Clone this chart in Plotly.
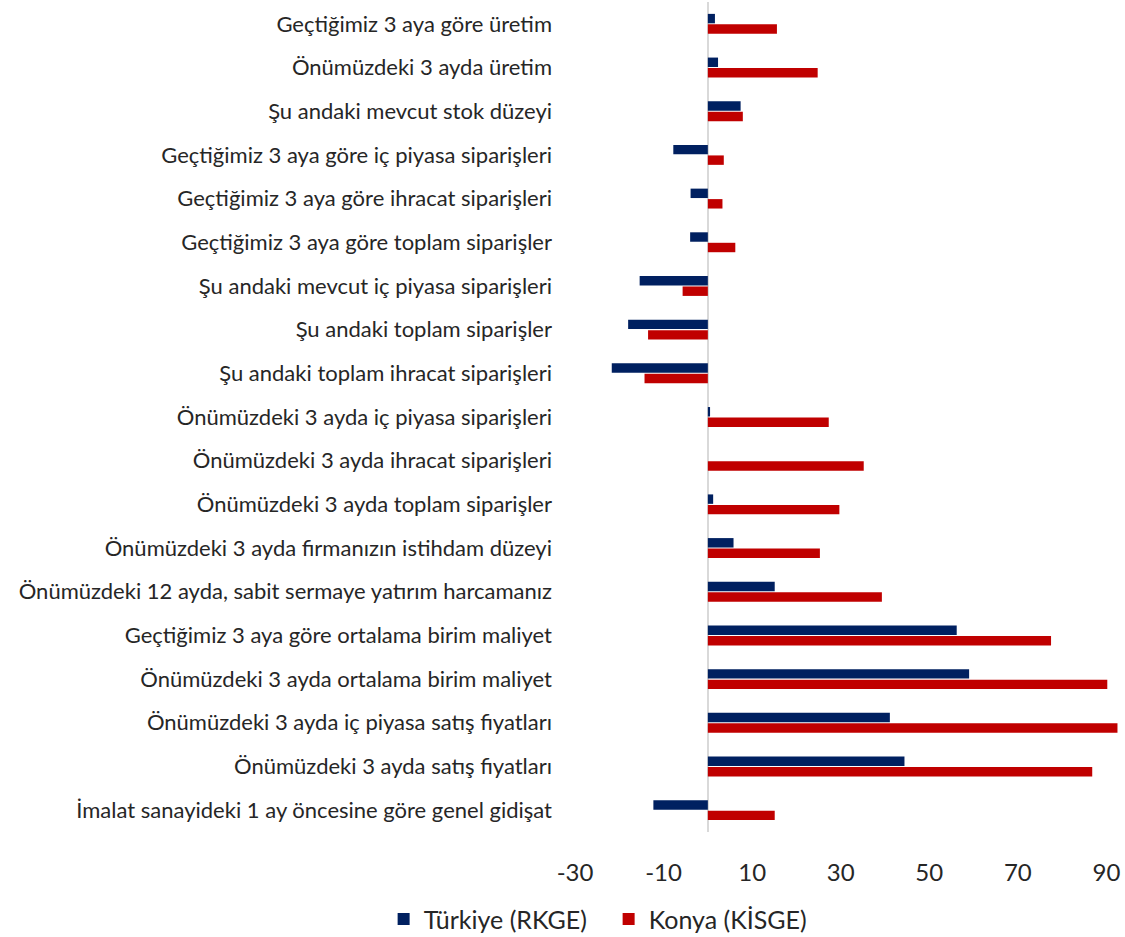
import plotly.graph_objects as go

categories = [
    "Geçtiğimiz 3 aya göre üretim",
    "Önümüzdeki 3 ayda üretim",
    "Şu andaki mevcut stok düzeyi",
    "Geçtiğimiz 3 aya göre iç piyasa siparişleri",
    "Geçtiğimiz 3 aya göre ihracat siparişleri",
    "Geçtiğimiz 3 aya göre toplam siparişler",
    "Şu andaki mevcut iç piyasa siparişleri",
    "Şu andaki toplam siparişler",
    "Şu andaki toplam ihracat siparişleri",
    "Önümüzdeki 3 ayda iç piyasa siparişleri",
    "Önümüzdeki 3 ayda ihracat siparişleri",
    "Önümüzdeki 3 ayda toplam siparişler",
    "Önümüzdeki 3 ayda firmanızın istihdam düzeyi",
    "Önümüzdeki 12 ayda, sabit sermaye yatırım harcamanız",
    "Geçtiğimiz 3 aya göre ortalama birim maliyet",
    "Önümüzdeki 3 ayda ortalama birim maliyet",
    "Önümüzdeki 3 ayda iç piyasa satış fiyatları",
    "Önümüzdeki 3 ayda satış fiyatları",
    "İmalat sanayideki 1 ay öncesine göre genel gidişat",
]

turkiye = [1.6, 2.3, 7.4, -7.8, -3.9, -4.0, -15.4, -18.0, -21.7, 0.5, 0.0, 1.2,
           5.8, 15.1, 56.2, 59.0, 41.1, 44.4, -12.3]
konya = [15.6, 24.8, 7.9, 3.6, 3.3, 6.2, -5.7, -13.5, -14.3, 27.3, 35.2, 29.7,
         25.3, 39.3, 77.5, 90.2, 92.5, 86.8, 15.1]

series_names = ["Türkiye (RKGE)", "Konya (KİSGE)"]
series_colors = ["#002060", "#C00000"]
x_ticks = [-30, -10, 10, 30, 50, 70, 90]

FONT = "Lato, 'Open Sans', sans-serif"

fig = go.Figure()
for name, vals, col in zip(series_names, [turkiye, konya], series_colors):
    fig.add_trace(go.Bar(
        y=categories, x=vals, name=name, orientation="h",
        marker=dict(color=col, line=dict(width=0)),
    ))

fig.update_layout(
    width=1125, height=937,
    margin=dict(l=575, r=0, t=2, b=105),
    paper_bgcolor="white", plot_bgcolor="white",
    barmode="group", bargap=0.52, bargroupgap=0.1,
    font=dict(family=FONT, size=22, color="#262626"),
    showlegend=True,
    legend=dict(
        orientation="h", xref="container", yref="container",
        x=0.541, xanchor="center", y=0.019, yanchor="middle",
        font=dict(family=FONT, size=25, color="#262626"),
        itemwidth=30, traceorder="normal",
        entrywidth=180, entrywidthmode="pixels",
    ),
    xaxis=dict(
        range=[-30, 94.2], tickvals=x_ticks, ticktext=[str(v) for v in x_ticks],
        showgrid=False, zeroline=True, zerolinecolor="#d9d9d9", zerolinewidth=2,
        showline=False, ticks="", ticklabelstandoff=24,
        tickfont=dict(family=FONT, size=24, color="#262626"),
    ),
    yaxis=dict(
        autorange="reversed", showgrid=False, showline=False, ticks="",
        ticklabelstandoff=22,
        tickfont=dict(family=FONT, size=22, color="#262626"),
    ),
)

fig.write_html("out.html", config={"displayModeBar": False},
               post_script="document.body.style.margin='0';")
